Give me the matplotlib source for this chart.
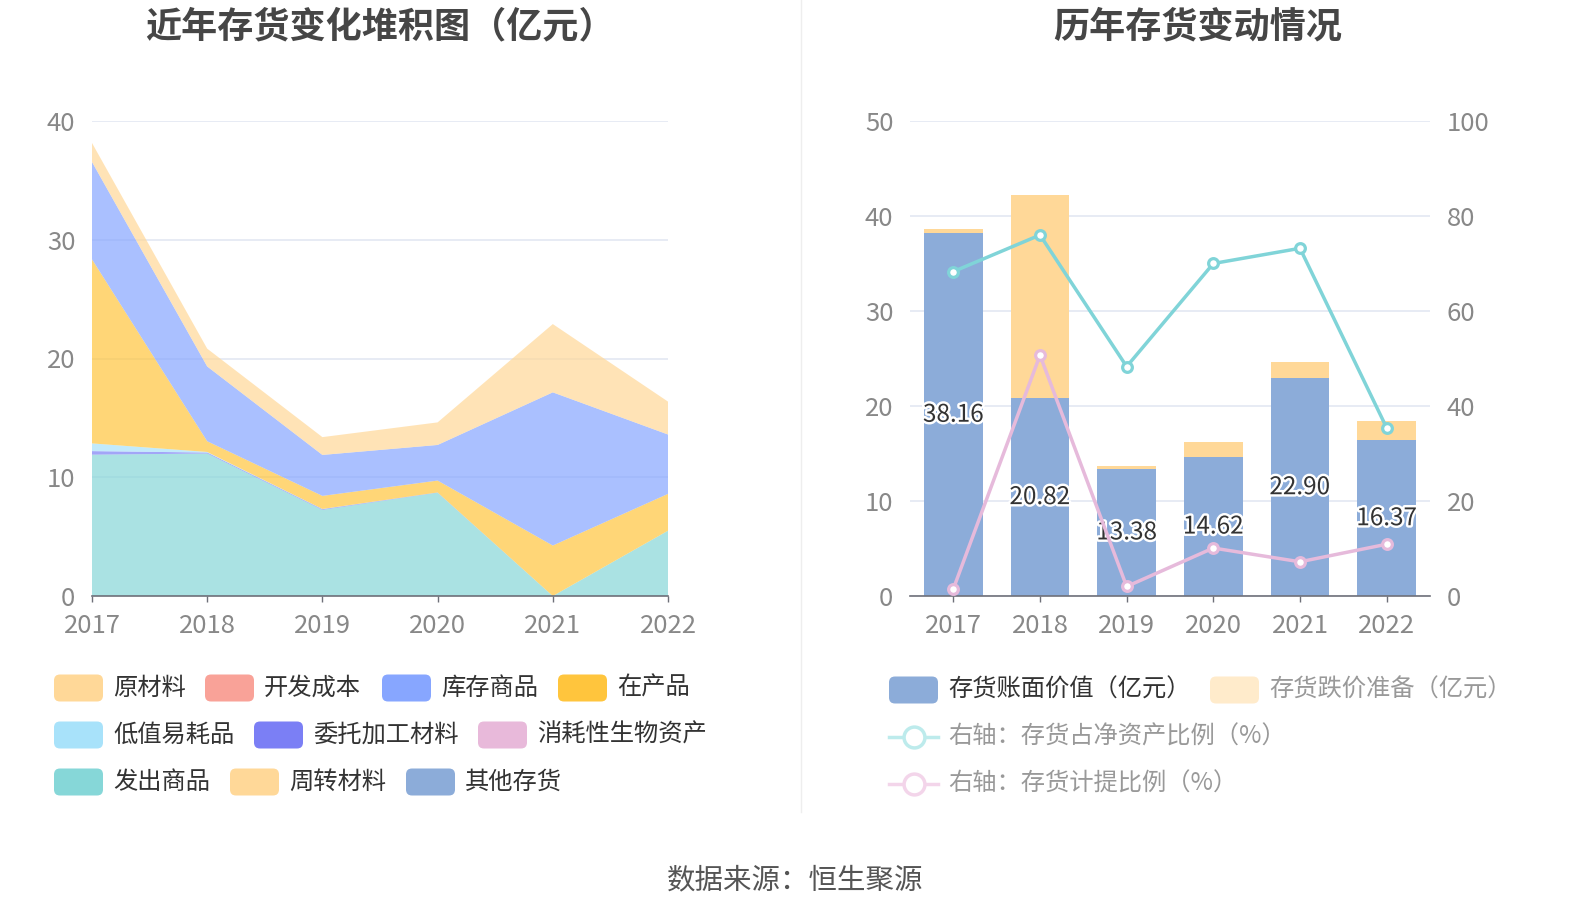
import matplotlib
matplotlib.use('Agg')
import matplotlib.pyplot as plt
import matplotlib.patheffects as pe
from matplotlib.patches import FancyBboxPatch
import numpy as np

plt.rcParams['font.family'] = ['Noto Sans CJK SC', 'DejaVu Sans']

years = ['2017', '2018', '2019', '2020', '2021', '2022']

# --- left chart: inventory composition (亿元) ---
yuancai = [1.6, 1.5, 1.5, 1.9, 5.75, 2.77]      # 原材料
kaifa = [0, 0, 0, 0, 0, 0]                      # 开发成本
kucun = [8.2, 6.3, 3.45, 3.0, 12.9, 5.0]        # 库存商品
zaichan = [15.5, 0.9, 1.1, 1.0, 4.25, 3.1]      # 在产品
dizhi = [0.65, 0.05, 0.02, 0.0, 0.0, 0.0]       # 低值易耗品
weituo = [0.3, 0.08, 0.06, 0.02, 0.0, 0.0]      # 委托加工材料
xiaohao = [0, 0, 0, 0, 0, 0]                    # 消耗性生物资产
fachu = [11.9, 12.0, 7.25, 8.7, 0.0, 5.5]       # 发出商品
zhouzhuan = [0, 0, 0, 0, 0, 0]                  # 周转材料
qita = [0, 0, 0, 0, 0, 0]                       # 其他存货

# --- right chart ---
book_value = [38.16, 20.82, 13.38, 14.62, 22.90, 16.37]   # 存货账面价值
provision = [0.45, 21.4, 0.28, 1.6, 1.7, 2.0]             # 存货跌价准备
net_ratio = [68.3, 76.0, 48.3, 70.0, 73.2, 35.4]          # 存货占净资产比例
prov_ratio = [1.5, 50.7, 2.0, 10.1, 7.2, 10.9]            # 存货计提比例

W, H = 1590, 918
fig = plt.figure(figsize=(W / 100, H / 100), dpi=100)

def fig_rect(x0, y0, x1, y1):
    return [x0 / W, 1 - y1 / H, (x1 - x0) / W, (y1 - y0) / H]

grid_c = '#E0E6F1'
axis_c = '#6E7079'
label_c = '#888888'
tick_fs = 18.5

def style_axis(ax):
    for s in ax.spines.values():
        s.set_visible(False)
    ax.spines['bottom'].set_visible(True)
    ax.spines['bottom'].set_color(axis_c)
    ax.spines['bottom'].set_linewidth(1.2)
    ax.grid(axis='y', color=grid_c, linewidth=1.1)
    ax.set_axisbelow(True)
    ax.tick_params(axis='x', colors=axis_c, length=4, width=1, labelcolor=label_c,
                   labelsize=tick_fs, pad=8)
    ax.tick_params(axis='y', length=0, labelcolor=label_c, labelsize=tick_fs, pad=12)

# ---------------- left stacked area ----------------
axl = fig.add_axes(fig_rect(92, 121, 668, 596))
x = np.arange(len(years))
stack_order = [
    (fachu, '#86D7D8'),
    (weituo, '#7B7FF5'),
    (dizhi, '#A8E2FA'),
    (zaichan, '#FFC53D'),
    (kucun, '#87A6FF'),
    (yuancai, '#FFD898'),
    (kaifa, '#F9A298'),
    (xiaohao, '#E8B9DA'),
    (zhouzhuan, '#FFD898'),
    (qita, '#8CACD9'),
]
axl.stackplot(x, [s for s, c in stack_order], colors=[c for s, c in stack_order],
              alpha=0.7, linewidth=0)
axl.set_xlim(0, len(years) - 1)
axl.set_ylim(0, 40)
axl.set_yticks([0, 10, 20, 30, 40])
axl.set_xticks(x)
axl.set_xticklabels(years)
style_axis(axl)

# ---------------- right bars + lines ----------------
axr = fig.add_axes(fig_rect(910, 121, 1430, 596))
bar_w = 0.68
axr.bar(x, book_value, width=bar_w, color='#8CACD9', zorder=2)
axr.bar(x, provision, width=bar_w, bottom=book_value, color='#FFD898', zorder=2)
for i, v in enumerate(book_value):
    axr.text(i, v / 2, f'{v:.2f}', ha='center', va='center', fontsize=17.5,
             color='#333333', zorder=3,
             path_effects=[pe.withStroke(linewidth=3.5, foreground='white')])
axr.set_xlim(-0.5, len(years) - 0.5)
axr.set_ylim(0, 50)
axr.set_yticks([0, 10, 20, 30, 40, 50])
axr.set_xticks(x)
axr.set_xticklabels(years)
style_axis(axr)

ax2 = axr.twinx()
ax2.set_ylim(0, 100)
ax2.set_yticks([0, 20, 40, 60, 80, 100])
for s in ax2.spines.values():
    s.set_visible(False)
ax2.tick_params(axis='y', length=0, labelcolor=label_c, labelsize=tick_fs, pad=12)
ax2.plot(x, net_ratio, color='#80D4D8', linewidth=2.5, marker='o', markersize=7,
         markerfacecolor='white', markeredgewidth=2.3, markeredgecolor='#80D4D8')
ax2.plot(x, prov_ratio, color='#E6BADB', linewidth=2.5, marker='o', markersize=7,
         markerfacecolor='white', markeredgewidth=2.3, markeredgecolor='#E6BADB')

# ---------------- overlay: titles, legends, divider, source ----------------
ov = fig.add_axes([0, 0, 1, 1])
ov.set_xlim(0, W)
ov.set_ylim(H, 0)
ov.axis('off')

ov.text(380, 27, '近年存货变化堆积图（亿元）', ha='center', va='center', fontsize=26,
        fontweight='bold', color='#464646')
ov.text(1198, 27, '历年存货变动情况', ha='center', va='center', fontsize=26,
        fontweight='bold', color='#464646')
ov.plot([801, 801], [0, 812], color='#EEEEEE', linewidth=1)
ov.text(795, 880, '数据来源：恒生聚源', ha='center', va='center', fontsize=20.5,
        color='#555555')

def legend_patch(px, py, color, label, text_c='#333333'):
    ov.add_patch(FancyBboxPatch((px, py - 13.5), 49, 27,
                                boxstyle='round,pad=0,rounding_size=6',
                                facecolor=color, edgecolor='none'))
    ov.text(px + 59, py, label, ha='left', va='center', fontsize=17.5, color=text_c)

def legend_line(px, py, color, label, text_c='#999999'):
    ov.plot([px, px + 49], [py, py], color=color, linewidth=2.5)
    ov.plot([px + 24.5], [py], marker='o', markersize=15, markerfacecolor='white',
            markeredgecolor=color, markeredgewidth=2.5)
    ov.text(px + 59, py, label, ha='left', va='center', fontsize=17.5, color=text_c)

left_legend = [
    (54, 688, '#FFD898', '原材料'),
    (205, 688, '#F9A298', '开发成本'),
    (382, 688, '#87A6FF', '库存商品'),
    (558, 688, '#FFC53D', '在产品'),
    (54, 735, '#A8E2FA', '低值易耗品'),
    (254, 735, '#7B7FF5', '委托加工材料'),
    (478, 735, '#E8B9DA', '消耗性生物资产'),
    (54, 782, '#86D7D8', '发出商品'),
    (230, 782, '#FFD898', '周转材料'),
    (406, 782, '#8CACD9', '其他存货'),
]
for px, py, c, lab in left_legend:
    legend_patch(px, py, c, lab)

legend_patch(889, 690, '#8CACD9', '存货账面价值（亿元）')
legend_patch(1210, 690, '#FFEBCB', '存货跌价准备（亿元）', text_c='#999999')
legend_line(889, 737, '#BDEBEC', '右轴：存货占净资产比例（%）')
legend_line(889, 784, '#F3D5EA', '右轴：存货计提比例（%）')

fig.savefig('out.png', dpi=100)
